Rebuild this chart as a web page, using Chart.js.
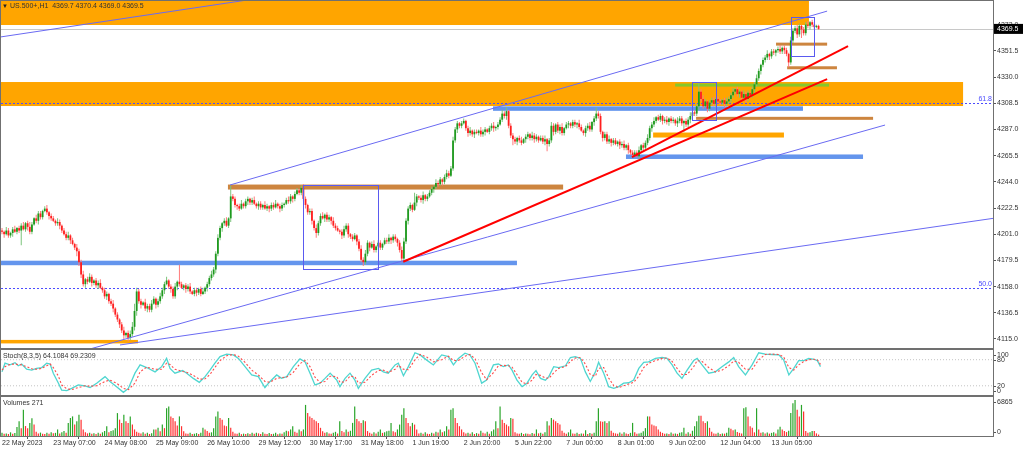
<!DOCTYPE html>
<html><head><meta charset="utf-8">
<script src="https://cdn.jsdelivr.net/npm/chart.js@4.4.0/dist/chart.umd.min.js"></script>
<style>
html,body{margin:0;padding:0;background:#fff;width:1024px;height:449px;overflow:hidden}
canvas{position:absolute;left:0}
#cMain{top:0}
#cStoch{top:349px}
#cVol{top:396px}
</style></head><body>
<canvas id="cMain" width="1024" height="349"></canvas>
<canvas id="cStoch" width="1024" height="47"></canvas>
<canvas id="cVol" width="1024" height="53"></canvas>
<script>
// ---------------- DATA ----------------
const symbolTitle = 'US.500+,H1  4369.7 4370.4 4369.0 4369.5';
const stochTitle = 'Stoch(8,3,5) 64.1084 69.2309';
const volTitle = 'Volumes 271';
const lastPrice = 4369.5;
const firstOpen = 4204;
const closes = [
4203,4201,4204,4200,4202,4205,4203,4206,4204,4208,4205,4210,4207,4203,4209,4214,4212,4218,4215,4220,
4222,4219,4216,4214,4212,4210,4211,4208,4204,4201,4198,4200,4196,4193,4190,4187,4178,4168,4160,4164,
4162,4166,4161,4163,4159,4161,4157,4155,4150,4152,4146,4144,4140,4135,4131,4127,4122,4118,4120,4116,
4119,4125,4138,4154,4146,4143,4145,4140,4142,4139,4144,4148,4143,4146,4150,4155,4160,4163,4158,4156,
4150,4158,4162,4160,4157,4159,4156,4158,4154,4152,4155,4153,4156,4152,4154,4157,4160,4165,4168,4172,
4185,4198,4206,4210,4212,4208,4214,4232,4230,4225,4224,4222,4226,4224,4228,4230,4227,4229,4226,4224,
4226,4223,4225,4222,4224,4222,4225,4223,4226,4224,4222,4225,4226,4229,4228,4232,4230,4234,4237,4235,
4239,4230,4225,4219,4220,4212,4206,4202,4210,4216,4214,4217,4213,4215,4212,4208,4206,4204,4203,4200,
4205,4208,4201,4199,4197,4200,4195,4189,4180,4178,4185,4194,4190,4193,4188,4191,4194,4190,4193,4196,
4195,4198,4196,4199,4197,4194,4188,4181,4195,4212,4222,4225,4221,4227,4232,4231,4229,4233,4230,4232,
4235,4238,4240,4243,4242,4246,4244,4248,4251,4249,4255,4278,4287,4292,4290,4292,4294,4288,4284,4286,
4283,4285,4284,4286,4283,4285,4287,4285,4288,4290,4288,4289,4291,4295,4300,4298,4302,4290,4282,4279,
4277,4280,4278,4276,4279,4281,4283,4280,4282,4279,4281,4278,4280,4277,4279,4275,4278,4290,4285,4291,
4286,4289,4284,4288,4291,4292,4290,4293,4291,4292,4289,4286,4284,4288,4290,4287,4293,4296,4300,4298,
4285,4280,4283,4277,4279,4276,4278,4275,4277,4274,4275,4272,4274,4270,4268,4266,4268,4265,4270,4274,
4272,4276,4280,4288,4291,4294,4297,4295,4298,4294,4295,4293,4296,4294,4295,4292,4294,4296,4292,4294,
4291,4295,4298,4301,4300,4306,4318,4312,4306,4310,4304,4309,4311,4308,4312,4310,4309,4311,4308,4310,
4312,4315,4318,4320,4316,4318,4313,4316,4312,4317,4315,4320,4324,4329,4335,4340,4344,4346,4349,4347,
4351,4350,4352,4353,4351,4354,4352,4349,4342,4360,4368,4370,4365,4372,4369,4366,4373,4372,4375,4373,
4371,4372,4369.5];
const wickUp = [
2,1,3,2,1,2,3,1,2,2,3,1,2,4,2,1,3,2,2,1, 2,3,1,2,2,1,3,2,1,2,2,3,1,2,1,3,2,2,3,1,
2,3,2,1,2,2,3,1,2,2,1,2,3,1,2,1,2,3,1,2, 3,4,6,3,2,2,1,3,2,2,3,2,1,2,3,2,2,3,1,2,
2,3,1,14,2,1,2,2,3,1,2,2,1,2,3,1,2,2,3,2, 2,3,2,1,2,3,1,9,2,2,1,2,3,1,2,2,1,2,3,1,
2,2,1,3,2,1,2,2,3,1,2,2,1,2,3,2,1,2,2,1, 2,3,2,1,2,2,1,3,2,2,3,1,2,2,1,3,2,2,1,2,
3,2,2,1,2,2,1,2,3,2,3,2,1,2,3,1,2,2,1,2, 2,3,1,2,2,1,2,3,3,2,2,2,1,8,2,1,2,3,1,2,
2,2,1,3,2,2,1,2,3,2,2,3,2,2,1,2,2,1,2,3, 1,2,2,1,3,2,2,1,2,2,3,1,2,2,3,2,3,1,2,2,
2,1,2,3,1,2,2,1,3,2,2,1,2,2,3,1,2,3,2,1, 2,2,3,1,2,2,1,2,2,1,3,2,1,2,2,3,1,2,5,2,
2,1,2,2,3,1,2,2,1,2,2,3,1,2,1,2,2,2,3,1, 2,2,3,2,2,3,1,2,2,1,2,3,1,2,2,1,3,2,2,1,
2,2,3,1,2,2,7,2,3,2,1,2,2,3,1,2,2,1,2,3, 2,2,3,1,2,2,1,3,2,2,1,2,2,3,2,1,2,2,3,1,
2,2,1,2,3,1,2,2,1,3,2,2,3,2,1,2,2,3,1,2, 2,1,1];
const wickDn = [
2,3,1,2,2,3,1,2,2,12,1,2,3,2,2,1,2,3,2,2, 1,2,3,2,1,2,2,3,2,1,2,2,3,1,2,4,3,3,2,3,
2,1,3,2,2,3,1,2,2,3,2,2,3,2,2,3,2,3,2,3, 2,2,3,4,2,3,1,2,3,2,2,1,3,2,2,2,3,1,2,3,
2,2,3,2,1,2,3,2,2,1,2,3,2,2,1,2,3,2,2,2, 3,2,2,3,2,1,2,3,2,2,3,2,1,2,2,3,2,2,1,2,
3,2,2,1,2,3,2,2,1,2,3,2,2,1,2,2,3,2,1,2, 2,2,3,2,2,3,2,4,2,2,1,3,2,2,3,2,2,1,2,3,
2,2,3,2,2,1,3,2,2,3,2,2,3,1,2,2,3,2,2,1, 2,2,3,2,2,3,2,3,2,2,3,2,2,1,3,2,2,3,2,2,
1,2,3,2,2,1,3,2,2,2,1,2,2,3,2,2,1,2,3,2, 2,3,1,2,2,2,3,1,2,2,3,2,2,1,2,2,3,2,2,5,
2,3,2,2,1,3,2,2,2,3,2,2,1,2,3,6,2,2,3,2, 2,3,2,2,1,3,2,2,2,3,2,1,2,3,2,2,2,3,2,2,
2,3,2,2,2,3,2,1,2,3,2,2,2,3,2,2,2,1,2,2, 3,2,2,2,3,2,2,1,2,3,2,2,3,2,2,2,3,2,2,7,
2,2,3,2,2,2,3,2,2,1,3,2,2,2,3,2,2,2,3,2, 2,3,2,2,2,3,2,2,3,2,2,2,3,2,2,3,2,2,2,3,
2,2,3,2,2,2,3,2,4,2,2,2,3,2,7,2,2,2,3,2, 2,1,1];
const volumes = [
600,450,500,380,700,420,550,1700,2800,1500,5000,1900,1500,2500,3400,2200,800,500,650,420,
380,600,450,700,520,600,1250,500,700,940,600,2500,3430,3740,2180,2800,4060,3120,1250,700,
500,600,450,520,380,600,450,700,940,1870,700,940,1100,1500,4370,3120,2500,4060,2800,2500,
3740,2180,1250,800,600,500,700,450,600,380,520,1250,1250,1560,900,2180,1500,5300,5620,3740,
3430,2800,2000,3740,1870,900,500,420,600,380,450,550,400,600,1560,1250,940,600,700,1500,
3740,4680,3430,3120,2000,1870,3430,1560,800,500,420,600,350,450,380,520,400,620,450,600,
500,380,700,450,400,550,380,420,600,350,500,450,700,1000,900,1250,1870,800,600,1250,
900,1250,5930,4370,3740,3430,3120,2800,2500,1560,900,600,700,500,450,600,800,500,2800,940,
700,1250,800,1000,2500,5620,3240,2800,2500,3000,2800,940,600,450,700,500,800,1250,600,700,
900,1000,2500,900,700,1250,2180,4060,5300,3430,2500,1870,2500,2180,1250,500,600,420,700,450,
380,600,500,800,650,1250,700,900,1870,1250,5000,5300,3430,2500,1870,1250,700,500,620,450,
700,380,550,450,1000,600,500,800,450,900,1250,2800,1500,5620,3120,2500,2180,1870,3430,3300,
700,500,450,600,380,500,420,350,550,450,1250,500,600,450,700,2800,2000,3430,3120,2800,
2500,2180,1000,600,450,700,1250,500,420,600,380,500,450,1100,400,550,450,600,2800,5300,
2800,2700,2800,2500,2800,1000,600,500,420,650,450,700,500,380,600,2500,700,450,500,600,
900,1500,3740,3740,2180,2000,1870,1250,800,600,450,500,380,650,450,500,400,600,700,1560,
450,700,420,1000,1870,2800,3870,3870,2800,2500,2800,1560,800,500,450,600,380,500,450,600,
1560,1370,1100,1250,750,600,500,5300,5500,3740,1870,1560,700,5300,1250,600,700,500,650,450,
600,700,500,1250,1750,1250,940,750,1000,4370,6240,6865,5000,3740,5930,4680,940,620,700,940,
940,500,271];
const stochBars = [
0,1.4,3.7,6.1,7.6,9.2,11.5,13.9,16.2,18.6, 20.9,22.5,24,26.4,27.9,30.3,32.6,35.7,38.8,41.2,
44.3,48.2,50.5,53.6,56.8,59.1,62.2,64.6,67.7,71.6, 74.7,77,78.6,80.9,84.5,86.4,89.5,92.3,95,97.3,
99.6,102,105.1,108.2,110.6,113.7,116.8,119.9,123,125.4, 128.5,130.8,133.2,136.3,139.4,141.8,144.1,146.4,148.8,151.1,
153.5,156.6,158.1,160.5,162.8,165.1,166.7,169.8,172.9,176.1, 178.4,180.7,183.9,185.4,187.8,190.1,193.2,195.6,198.7,201.8,
205.7,208.8,211.2,213.5,216.6,218.9,221.3,224.4,226.7,229.9, 232.2,234.5,236.9,238.6,240.9,243.3,245.6,248,249.8,251.9,
254.2,255.8,258.1,260.4,263.6,265.9,268.2,270.6,272.9,275.2, 277.6,279.1,281.5,283.8,286.2,288.5,290.8,293.2,295.5,297.9,
300.2,302.5,305.7,308.8,311.1,313.5,315.8,318.1,320.5,323.6, 325.2,327.5,330.6,333.7,336.8,340,342.3,344.6,347.8,350.9,
354,357.1,360.2,363.4,365.7,368.1,370.4,372.7,375.1,377.4, 379.8,381.4,382.9];
const stochMain = [
52,72,68,73,66,70,58,56,60,62, 72,70,49,26,10,9,14,22,20,16,
26,41,30,18,5,14,49,68,62,52, 64,83,60,49,55,49,37,28,41,56,
72,87,93,91,83,64,45,41,16,30, 45,37,41,64,82,75,49,22,26,37,
49,33,18,37,49,33,14,37,56,60, 52,49,68,72,43,64,96,91,79,68,
91,87,68,83,95,91,72,26,33,68, 70,64,68,56,33,18,26,45,55,37,
33,41,64,62,66,85,87,83,52,30, 52,74,49,18,14,18,26,27,33,60,
74,75,83,85,83,68,49,37,56,78, 83,68,49,52,64,75,85,64,45,68,
96,93,92,91,79,45,60,78,78,83, 81,78,64.1];
const stochSignal = [
56,64,69,70,69,68,64,59,58,60, 66,70,62,42,22,13,11,16,20,19,
20,30,33,26,14,11,26,52,63,58, 58,72,69,58,53,51,44,35,36,46,
62,78,89,92,88,74,56,45,30,28, 37,39,40,51,71,78,64,40,27,30,
42,41,28,29,42,41,26,28,44,55, 56,51,58,67,58,57,80,92,86,75,
80,88,78,78,88,92,82,50,34,50, 66,67,66,63,46,28,24,33,46,44,
38,37,50,60,64,76,84,85,70,46, 42,60,62,38,20,16,20,24,28,42,
62,72,78,83,84,76,60,46,46,64, 78,76,62,52,56,66,77,74,58,58,
80,92,93,92,86,62,56,68,76,80, 81,80,69.2];
const stochLevels = [20, 80];
const stochAxisLabels = [100, 80, 20, 0];
const priceTicks = [4115,4136.5,4158,4179.5,4201,4222.5,4244,4265.5,4287,4308.5,4330,4351.5,4373];
const timeLabels = ['22 May 2023','23 May 07:00','24 May 08:00','25 May 09:00','26 May 10:00','29 May 12:00','30 May 17:00','31 May 18:00','1 Jun 19:00','2 Jun 20:00','5 Jun 22:00','7 Jun 00:00','8 Jun 01:00','9 Jun 02:00','12 Jun 04:00','13 Jun 05:00'];
const labelBars = [0,24,48,72,96,120,144,168,192,216,240,264,288,312,336,360];
// drawn objects, in bar index / price units
const zones = [[-1,377.5,4400,4372.7],[-1,449.6,4325.9,4306.2]];          // [barFrom, barTo, priceTop, priceBottom]
const blueLevels = [[-1,240.9,4177.4],[229.7,374.7,4304.1],[291.9,402.8,4264.6]]; // [barFrom, barTo, price]
const brownLevels = [[105.7,262.5,4239.7],[324.7,407.5,4296.1],[367.3,390.6,4337.6],[362.1,386,4357]];
const orangeLevels = [[304.6,365.8,4282.4],[-1,63.6,4112.8]];
const greenLevels = [[314.9,386.9,4323.4]];
const boxes = [[140.8,175.9,4241.6,4172.4],[322.8,334,4325.6,4294.8],[369.1,379.9,4379,4347.5]];
const fibLevels = [[61.8,4309.0],[50.0,4156.8]];
const channelLines = [[-1,4362.8,120,4394.6],[106.7,4241.4,386,4384.1],[41.2,4106.8,413.1,4290.6],[55.2,4110.1,463.6,4214.0]]; // [bar0, price0, bar1, price1]
const redLines = [[187.7,4178.4,386,4328.3],[294.7,4264.3,395.8,4355.4]];

// ---------------- STYLE / LAYOUT ----------------
const FONT = "'Liberation Sans', Arial, sans-serif";
Chart.defaults.font.family = FONT;
Chart.defaults.font.size = 7;
Chart.defaults.color = '#333';
const X_MIN = -0.468, X_MAX = 463.6;
const AXIS_W = 31;
const UP = '#1f9a1f', DN = '#ff1f1f';
const UP_W = '#7cc47c', DN_W = '#ff7a7a';
const ORANGE = '#ffa500', BLUE_LVL = '#6495ed', BROWN = '#cd853f', GREEN_LVL = '#86c82a';
const blueW = [4.5,4.5,4.5], brownW = [5,3,3,3], orangeW = [5,3.5], greenW = [3];

const opens = closes.map((c,i)=> i===0 ? firstOpen : closes[i-1]);
const highs = closes.map((c,i)=> Math.max(opens[i],c) + wickUp[i]);
const lows = closes.map((c,i)=> Math.min(opens[i],c) - wickDn[i]);
const isUp = closes.map((c,i)=> c >= opens[i]);
const volCol = volumes.map((v,i)=> (i===0 || v > volumes[i-1]) ? '#2aa52a' : '#ff3030');

function fixY(s){ s.width = AXIS_W; s.paddingTop = 0; s.paddingBottom = 0; }
function xScale(display){
  return {type:'linear', min:X_MIN, max:X_MAX, display:display, offset:false,
    grid:{display:false}, border:{display:false}};
}
const frame = {
  id:'frame',
  afterDraw(chart){
    const {ctx, chartArea:a} = chart;
    ctx.save(); ctx.strokeStyle = '#707070'; ctx.lineWidth = 1;
    ctx.strokeRect(a.left-0.5, a.top-0.5, a.right-a.left+1, a.bottom-a.top+1);
    ctx.restore();
  }
};
function title(ctx, text, x, y){
  ctx.save(); ctx.font = '7px ' + FONT; ctx.fillStyle = '#333'; ctx.textBaseline = 'middle';
  ctx.fillText(text, x, y); ctx.restore();
}

// ---------------- MAIN CHART ----------------
const overlay = {
  id:'overlay',
  beforeDatasetsDraw(chart){
    const {ctx, chartArea:a, scales:{x, y}} = chart;
    ctx.save();
    ctx.beginPath(); ctx.rect(a.left, a.top, a.right-a.left, a.bottom-a.top); ctx.clip();
    ctx.fillStyle = ORANGE;
    zones.forEach(z=>{
      const x0 = x.getPixelForValue(z[0]), x1 = x.getPixelForValue(z[1]);
      const y0 = y.getPixelForValue(z[2]), y1 = y.getPixelForValue(z[3]);
      ctx.fillRect(x0, y0, x1-x0, y1-y0);
    });
    const levels = (list, widths, color)=>{
      ctx.fillStyle = color;
      list.forEach((l,k)=>{
        const x0 = x.getPixelForValue(l[0]), x1 = x.getPixelForValue(l[1]);
        const py = y.getPixelForValue(l[2]);
        ctx.fillRect(x0, py - widths[k]/2, x1-x0, widths[k]);
      });
    };
    levels(blueLevels, blueW, BLUE_LVL);
    levels(brownLevels, brownW, BROWN);
    levels(orangeLevels, orangeW, ORANGE);
    levels(greenLevels, greenW, GREEN_LVL);
    const pl = Math.round(y.getPixelForValue(lastPrice)) + 0.5;
    ctx.strokeStyle = '#c8c8c8'; ctx.lineWidth = 1;
    ctx.beginPath(); ctx.moveTo(a.left, pl); ctx.lineTo(a.right, pl); ctx.stroke();
    ctx.strokeStyle = '#4b4bff'; ctx.setLineDash([2,2]);
    fibLevels.forEach(f=>{
      const py = Math.round(y.getPixelForValue(f[1])) + 0.5;
      ctx.beginPath(); ctx.moveTo(a.left, py); ctx.lineTo(a.right, py); ctx.stroke();
    });
    ctx.setLineDash([]);
    ctx.restore();
  },
  afterDatasetsDraw(chart){
    const {ctx, chartArea:a, scales:{x, y}} = chart;
    ctx.save();
    ctx.beginPath(); ctx.rect(a.left, a.top, a.right-a.left, a.bottom-a.top); ctx.clip();
    ctx.strokeStyle = '#5a5af0'; ctx.lineWidth = 1;
    boxes.forEach(b=>{
      const x0 = Math.round(x.getPixelForValue(b[0]))+0.5, x1 = Math.round(x.getPixelForValue(b[1]))+0.5;
      const y0 = Math.round(y.getPixelForValue(b[2]))+0.5, y1 = Math.round(y.getPixelForValue(b[3]))+0.5;
      ctx.strokeRect(x0, y0, x1-x0, y1-y0);
    });
    ctx.fillStyle = '#4b4bff'; ctx.font = '7px ' + FONT; ctx.textAlign = 'right'; ctx.textBaseline = 'bottom';
    fibLevels.forEach(f=>{
      ctx.fillText(f[0].toFixed(1), a.right - 1, y.getPixelForValue(f[1]) - 0.5);
    });
    ctx.restore();
  },
  afterDraw(chart){
    const {ctx, chartArea:a, scales:{y}} = chart;
    ctx.save();
    const py = y.getPixelForValue(lastPrice);
    ctx.fillStyle = '#000'; ctx.fillRect(a.right+1, py-5, 29, 10);
    ctx.fillStyle = '#fff'; ctx.font = '7px ' + FONT; ctx.textBaseline = 'middle';
    ctx.fillText(lastPrice.toFixed(1), a.right+4, py);
    ctx.fillStyle = '#222'; ctx.font = '6px ' + FONT;
    ctx.fillText('\u25BC', 2, 6);
    ctx.restore();
    title(ctx, symbolTitle, 10, 6.5);
  }
};

const mainDatasets = [
  {type:'bar', data: closes.map((c,i)=>({x:i, y:[lows[i], highs[i]]})),
   backgroundColor: c=>isUp[c.dataIndex] ? UP_W : DN_W, barThickness:1, grouped:false, inflateAmount:0, order:3},
  {type:'bar', data: closes.map((c,i)=>({x:i, y:[opens[i], c]})),
   backgroundColor: c=>isUp[c.dataIndex] ? UP : DN, barThickness:1.8, grouped:false, inflateAmount:0, minBarLength:1, order:2}
];
channelLines.forEach(l=>mainDatasets.push({type:'line', data:[{x:l[0],y:l[1]},{x:l[2],y:l[3]}],
  borderColor:'#6a6af2', borderWidth:1, pointRadius:0, order:1}));
redLines.forEach(l=>mainDatasets.push({type:'line', data:[{x:l[0],y:l[1]},{x:l[2],y:l[3]}],
  borderColor:'#ff0000', borderWidth:2, pointRadius:0, order:0}));

new Chart(document.getElementById('cMain'), {
  type:'bar',
  data:{datasets: mainDatasets},
  options:{
    responsive:false, animation:false, events:[],
    layout:{padding:{left:1, top:1, right:0, bottom:1}},
    plugins:{legend:{display:false}, tooltip:{enabled:false}},
    scales:{
      x: xScale(false),
      y: {type:'linear', position:'right', min:4107.6, max:4392.4,
        afterBuildTicks: s=>{ s.ticks = priceTicks.map(v=>({value:v})); },
        afterFit: fixY,
        ticks:{autoSkip:false, padding:1, callback:v=>Number(v).toFixed(1), font:{size:7}, color:'#333'},
        grid:{display:true, drawOnChartArea:false, drawTicks:true, tickLength:3, color:'#555'},
        border:{display:false}}
    }
  },
  plugins:[overlay, frame]
});

// ---------------- STOCHASTIC ----------------
const sideLabels = (values, fmt)=>({
  id:'sideLabels',
  afterDraw(chart){
    const {ctx, chartArea:a, scales:{y}} = chart;
    ctx.save(); ctx.font = '7px ' + FONT; ctx.fillStyle = '#333'; ctx.textBaseline = 'middle';
    ctx.strokeStyle = '#555'; ctx.lineWidth = 1;
    values().forEach(v=>{
      let py = y.getPixelForValue(v);
      py = Math.min(Math.max(py, a.top+5), a.bottom-4);
      ctx.beginPath(); ctx.moveTo(a.right, Math.round(py)+0.5); ctx.lineTo(a.right+3, Math.round(py)+0.5); ctx.stroke();
      ctx.fillText(fmt(v), a.right+4, py);
    });
    ctx.restore();
  }
});
const stochTitlePlugin = {id:'stTitle', afterDraw(chart){ title(chart.ctx, stochTitle, 3, 7); }};
new Chart(document.getElementById('cStoch'), {
  type:'line',
  data:{datasets:[
    {data: stochBars.map((b,i)=>({x:b, y:stochMain[i]})), borderColor:'#4fd6d0', borderWidth:1.3, pointRadius:0, tension:0, order:1},
    {data: stochBars.map((b,i)=>({x:b, y:stochSignal[i]})), borderColor:'#ff4a4a', borderWidth:1.1, borderDash:[2,2], pointRadius:0, tension:0, order:0},
    ...stochLevels.map(v=>({data:[{x:X_MIN,y:v},{x:X_MAX,y:v}], borderColor:'#c4c4c4', borderWidth:1, borderDash:[1,2], pointRadius:0, order:2}))
  ]},
  options:{
    responsive:false, animation:false, events:[],
    layout:{padding:{left:1, top:1, right:0, bottom:1}},
    plugins:{legend:{display:false}, tooltip:{enabled:false}},
    scales:{
      x: xScale(false),
      y: {type:'linear', position:'right', min:-1.2, max:102.3, afterFit: fixY,
        ticks:{display:false}, grid:{display:false}, border:{display:false}}
    }
  },
  plugins:[sideLabels(()=>stochAxisLabels, v=>String(v)), stochTitlePlugin, frame]
});

// ---------------- VOLUMES ----------------
const volTitlePlugin = {id:'vTitle', afterDraw(chart){ title(chart.ctx, volTitle, 3, 7); }};
new Chart(document.getElementById('cVol'), {
  type:'bar',
  data:{datasets:[
    {data: volumes.map((v,i)=>({x:i, y:v})), backgroundColor: c=>volCol[c.dataIndex],
     barThickness:1.2, grouped:false, inflateAmount:0}
  ]},
  options:{
    responsive:false, animation:false, events:[],
    layout:{padding:{left:1, top:1, right:0, bottom:0}},
    plugins:{legend:{display:false}, tooltip:{enabled:false}},
    scales:{
      x: {type:'linear', min:X_MIN, max:X_MAX, offset:false,
        afterBuildTicks: s=>{ s.ticks = labelBars.map(v=>({value:v})); },
        afterFit: s=>{ s.height = 13; s.paddingLeft = 0; s.paddingRight = 0; },
        ticks:{autoSkip:false, maxRotation:0, minRotation:0, align:'start', padding:0, font:{size:7}, color:'#333',
          callback:(v,idx)=>timeLabels[idx]},
        grid:{display:true, drawOnChartArea:false, drawTicks:true, tickLength:3, color:'#555'},
        border:{display:false}},
      y: {type:'linear', position:'right', min:0, max:7437, afterFit: fixY,
        ticks:{display:false}, grid:{display:false}, border:{display:false}}
    }
  },
  plugins:[sideLabels(()=>[Math.max(...volumes), 0], v=>String(v)), volTitlePlugin, frame]
});
</script>
</body></html>
